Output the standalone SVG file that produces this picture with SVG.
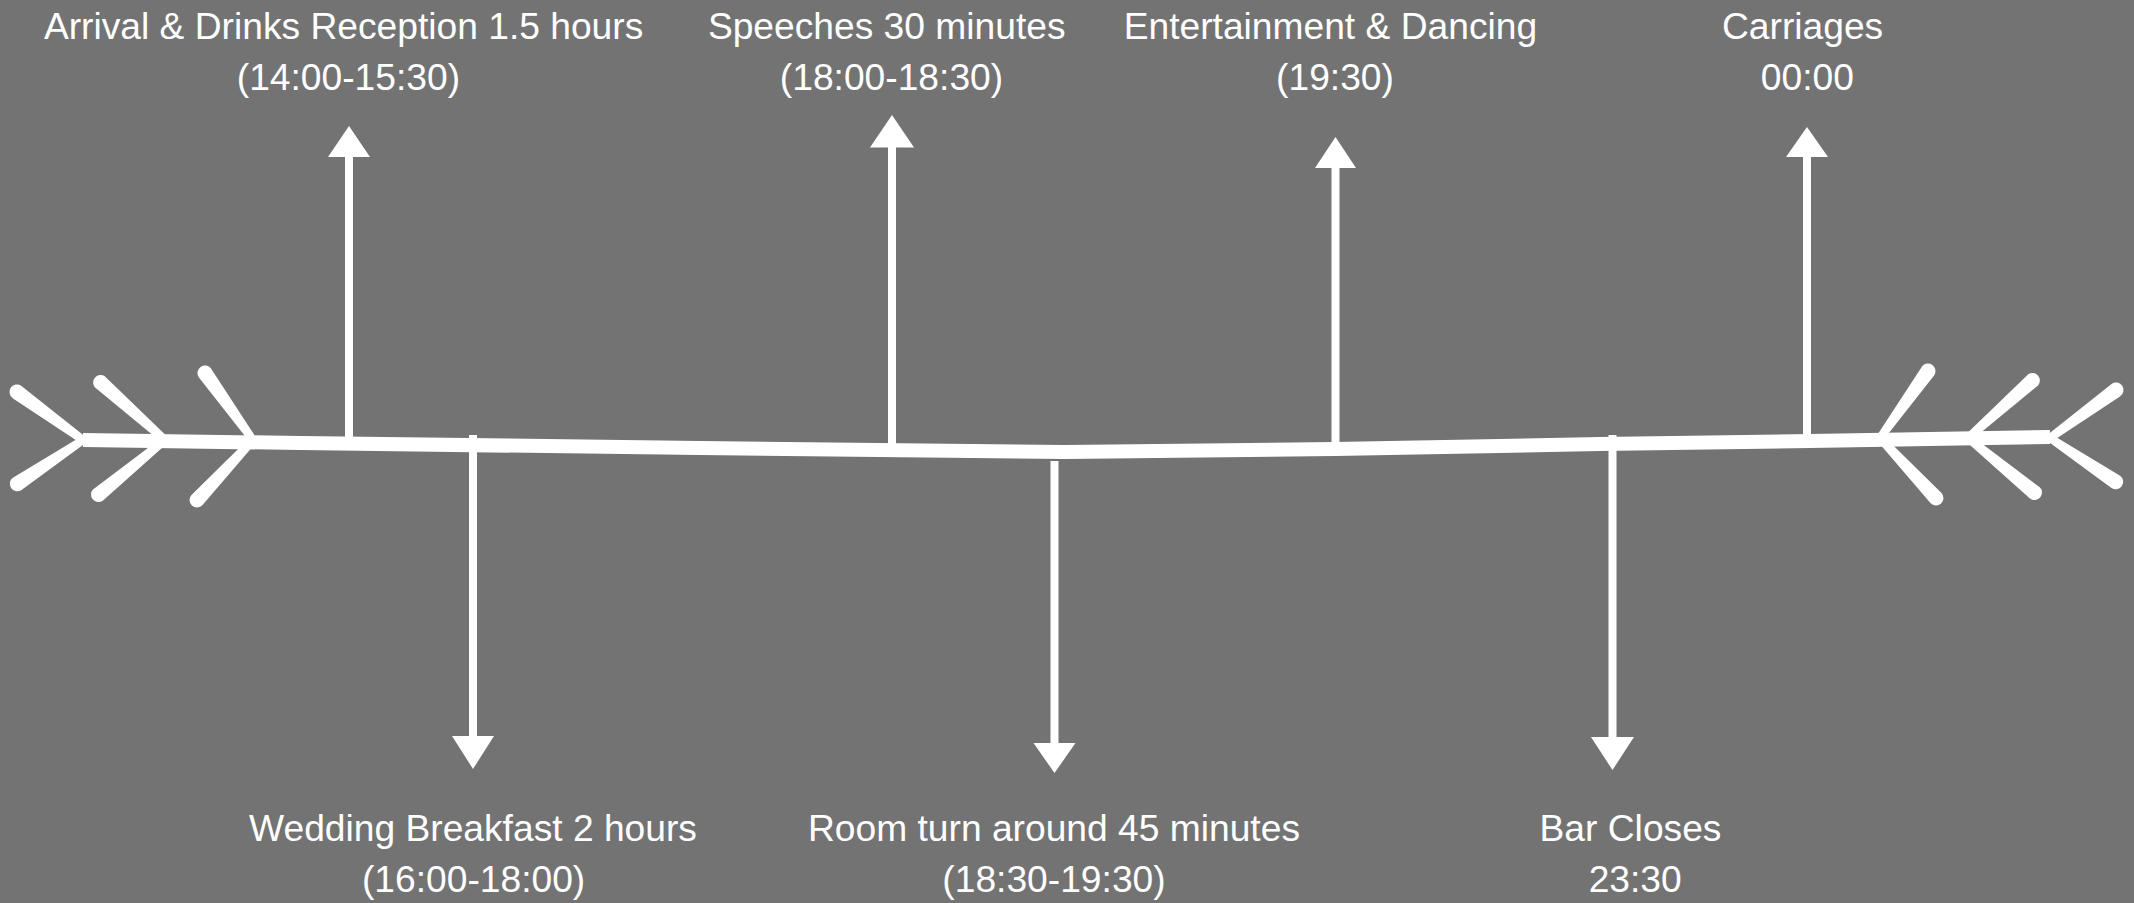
<svg xmlns="http://www.w3.org/2000/svg" xmlns:xlink="http://www.w3.org/1999/xlink" width="2134" height="903" viewBox="0 0 2134 903">
<style>
.lbl{font-family:"Liberation Sans",Arial,sans-serif;font-size:37.2px;fill:#ffffff;text-anchor:middle}
.shaft{stroke:#ffffff;stroke-width:8;fill:none}
.head{fill:#ffffff}
.arm{fill:#ffffff;stroke:#ffffff;stroke-width:2;stroke-linejoin:round}
</style>
<defs>
<g id="chevrons">
<path class="arm" d="M84.8,437.6 L20.8,386.7 A6.5 6.5 0 0 0 13.2,397.3 L81.2,442.4Z"/>
<path class="arm" d="M81.3,437.5 L13.4,478.6 A6.5 6.5 0 0 0 20.6,489.4 L84.7,442.5Z"/>
<path class="arm" d="M167,437.8 L104.3,377.2 A6.5 6.5 0 0 0 95.7,386.8 L163,442.2Z"/>
<path class="arm" d="M163.1,437.7 L93.9,490 A6.5 6.5 0 0 0 102.1,500 L166.9,442.3Z"/>
<path class="arm" d="M255.4,438.3 L210.3,369.2 A6.5 6.5 0 0 0 199.7,376.8 L250.6,441.7Z"/>
<path class="arm" d="M250.8,438 L192.2,495.6 A6.5 6.5 0 0 0 201.8,504.4 L255.2,442Z"/>
</g>
</defs>
<rect x="0" y="0" width="2134" height="903" fill="#737373"/>
<g id="timeline">
<polyline points="83,440 300,443 700,448 1065,452 1335,449 1600,444 1810,441 2050,437" fill="none" stroke="#ffffff" stroke-width="14" stroke-linejoin="round"/>
<use xlink:href="#chevrons"/>
<use xlink:href="#chevrons" transform="translate(2133,-2) scale(-1,1)"/>
</g>
<g id="connectors">
<line class="shaft" x1="349" y1="443" x2="349" y2="150"/>
<polygon class="head" points="349,126 328,157 370,157"/>
<line class="shaft" x1="892" y1="448" x2="892" y2="140"/>
<polygon class="head" points="892,115 870,147.5 914,147.5"/>
<line class="shaft" x1="1335.5" y1="447" x2="1335.5" y2="160"/>
<polygon class="head" points="1335.5,137 1315,168 1356,168"/>
<line class="shaft" x1="1807" y1="441" x2="1807" y2="150"/>
<polygon class="head" points="1807,127 1786,157 1828,157"/>
<line class="shaft" x1="473" y1="435" x2="473" y2="744"/>
<polygon class="head" points="452,736 494,736 473,769"/>
<line class="shaft" x1="1054.5" y1="461" x2="1054.5" y2="750"/>
<polygon class="head" points="1033.5,743 1075.5,743 1054.5,773"/>
<line class="shaft" x1="1612.5" y1="435" x2="1612.5" y2="744"/>
<polygon class="head" points="1591,737 1634,737 1612.5,770"/>
</g>
<g id="n-arrival"><text class="lbl" x="343.6" y="39">Arrival &amp; Drinks Reception 1.5 hours</text><text class="lbl" x="348.4" y="90">(14:00-15:30)</text></g>
<g id="n-speeches"><text class="lbl" x="886.7" y="39">Speeches 30 minutes</text><text class="lbl" x="891.5" y="90">(18:00-18:30)</text></g>
<g id="n-entertainment"><text class="lbl" x="1330.4" y="39">Entertainment &amp; Dancing</text><text class="lbl" x="1335" y="90">(19:30)</text></g>
<g id="n-carriages"><text class="lbl" x="1802.6" y="39">Carriages</text><text class="lbl" x="1807.4" y="90">00:00</text></g>
<g id="n-wedding"><text class="lbl" x="473" y="841">Wedding Breakfast 2 hours</text><text class="lbl" x="473.6" y="892">(16:00-18:00)</text></g>
<g id="n-room"><text class="lbl" x="1054" y="841">Room turn around 45 minutes</text><text class="lbl" x="1054" y="892">(18:30-19:30)</text></g>
<g id="n-bar"><text class="lbl" x="1630.5" y="841">Bar Closes</text><text class="lbl" x="1635.2" y="892">23:30</text></g>
</svg>
